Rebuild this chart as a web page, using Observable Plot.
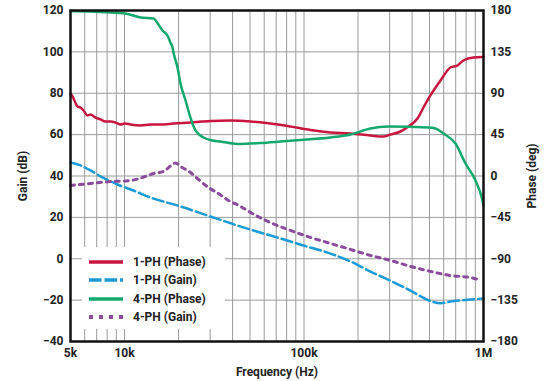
<!DOCTYPE html>
<html><head><meta charset="utf-8">
<script src="https://cdn.jsdelivr.net/npm/d3@7"></script>
<script src="https://cdn.jsdelivr.net/npm/@observablehq/plot@0.6"></script>
<style>
body{margin:0;background:#fff;}
#wrap{position:relative;width:553px;height:381px;font-family:Roboto,"DejaVu Sans",sans-serif;}
#legend{position:absolute;left:82px;top:247px;width:143px;height:82px;background:#fff;}
#legend .row{position:absolute;left:0;height:18px;display:flex;align-items:center;font-weight:bold;font-size:12px;color:#222;}
#legend svg{margin-left:7px;margin-right:10px;}
</style></head><body><div id="wrap"></div>
<script>
// ---- data ----
const f1Phase = [5000,5130,5260,5470,5690,5910,6220,6460,6890,7350,7830,8350,8900,9490,10100,10800,12300,13950,15860,18740,23300,30100,38900,50300,65000,84000,108700,140400,181500,234600,277000,303000,344700,382000,428700,463000,506000,576000,654000,716000,773000,879000,987000,1000000];
const v1Phase = [89.7,86.5,82.1,75.6,74.5,71.2,65.8,66.9,63.6,61.5,59.3,59.3,58.2,56.0,57.1,56.0,55.0,56.0,56.0,57.1,58.2,59.8,60.4,59.3,57.1,53.8,50.0,47.3,46.2,44.0,42.9,45.1,48.4,53.8,62.5,74.5,87.6,103.9,118.0,120.2,125.6,128.9,129.4,129.4];

const f1Gain = [5000,5690,6460,7350,9140,11200,13950,20500,30100,50300,74000,99300,140400,181500,234600,303000,392000,506000,576000,654000,846000,1000000];
const v1Gain = [46.5,45.1,42.7,39.8,35.9,33.0,29.6,25.3,20.4,14.1,9.8,6.4,2.5,-1.3,-6.2,-10.6,-15.4,-20.4,-21.5,-20.7,-19.7,-19.2];

const f4Phase = [5000,6460,8350,10100,12300,14500,15460,16270,17350,18000,18500,18740,19730,20500,21870,23300,24850,27540,30900,34250,42600,57200,74000,95600,140400,181500,234600,295600,493600,540000,598000,698000,794000,902000,987000,1000000];
const v4Phase = [179.5,178.9,177.8,176.7,172.4,171.3,164.8,158.2,152.8,145.2,139.8,134.3,118.0,100.6,82.1,63.6,49.5,41.9,38.6,37.5,34.8,35.9,37.5,39.2,41.9,45.1,51.7,53.8,52.8,51.7,46.2,35.3,13.6,-4.9,-26.6,-32.1];

const f4Gain = [5000,6460,8350,10800,13090,14500,16500,18500,19200,20500,23300,25830,29400,33400,37900,44300,50300,65000,84000,108700,140400,181500,234600,303000,392000,506000,654000,846000,937000];
const v4Gain = [35.4,36.4,37.3,37.8,39.8,41.2,42.2,45.6,46.3,44.6,41.7,38.3,34.4,31.5,28.2,25.3,22.4,17.5,13.7,10.3,7.4,4.5,1.6,-0.8,-3.7,-6.1,-8.1,-9.1,-10.0];

const xTicks = [5000,10000,100000,1000000];
const xTickLabels = ["5k","10k","100k","1M"];
const gainTicks = [-40,-20,0,20,40,60,80,100,120];
const phaseTicks = [-180,-135,-90,-45,0,45,90,135,180];
const xGrid = [6000,7000,8000,9000,10000,20000,30000,40000,50000,60000,70000,80000,90000,100000,200000,300000,400000,500000,600000,700000,800000,900000];

const series = [
  {name:"1-PH (Phase)", color:"#c8163f", dash:null, width:2.5, phase:true, f:f1Phase, v:v1Phase},
  {name:"1-PH (Gain)", color:"#1b9ad6", dash:"11,4", width:2.5, phase:false, f:f1Gain, v:v1Gain},
  {name:"4-PH (Phase)", color:"#14a86c", dash:null, width:2.5, phase:true, f:f4Phase, v:v4Phase},
  {name:"4-PH (Gain)", color:"#8b4b9d", dash:"4,5", width:3, phase:false, f:f4Gain, v:v4Gain}
];
// phase (deg) mapped onto the gain scale: -180..180 -> -40..120
const phaseToGain = p => p / 2.25 + 40;
const gainToPhase = g => Math.round((g - 40) * 2.25);

const lineMarks = series.map(s => {
  const data = s.f.map((f, i) => ({f, y: s.phase ? phaseToGain(s.v[i]) : s.v[i]}));
  return Plot.line(data, {x:"f", y:"y", stroke:s.color, strokeWidth:s.width, strokeDasharray:s.dash, curve:"monotone-x", strokeLinejoin:"round"});
});

const xTickData = xTicks.map((t, i) => ({t, label: xTickLabels[i]}));

const plot = Plot.plot({
  width:553, height:381,
  marginLeft:70, marginRight:70, marginTop:10, marginBottom:40,
  style:{fontFamily:"Roboto, 'DejaVu Sans', sans-serif", fontSize:"12px", fontWeight:"bold", color:"#222", background:"#fff"},
  x:{type:"log", domain:[5000,1000000]},
  y:{domain:[-40,120]},
  marks:[
    Plot.ruleX(xGrid, {stroke:"#9a9a9a", strokeWidth:1, strokeOpacity:1}),
    Plot.ruleY(gainTicks.slice(1,-1), {stroke:"#9a9a9a", strokeWidth:1, strokeOpacity:1}),
    ...lineMarks,
    Plot.text(xTickData, {x:"t", text:"label", frameAnchor:"bottom", lineAnchor:"top", dy:7, fill:"#222", fontWeight:"bold", fontSize:12}),
    Plot.axisX({ticks:[], tickSize:0, label:"Frequency (Hz)", labelAnchor:"center", labelOffset:34, labelArrow:"none"}),
    Plot.axisY({ticks:gainTicks, tickSize:0, tickPadding:7, label:"Gain (dB)", labelAnchor:"center", labelOffset:52, labelArrow:"none"}),
    Plot.axisY({anchor:"right", ticks:phaseTicks.map(phaseToGain), tickFormat:g => { const p = gainToPhase(g); return p < 0 ? "\u2212" + Math.abs(p) : String(p); }, tickSize:0, tickPadding:7, label:"Phase (deg)", labelAnchor:"center", labelOffset:52, labelArrow:"none"}),
    Plot.frame({stroke:"#111", strokeWidth:2.5})
  ]
});
const wrap = document.getElementById("wrap");
wrap.appendChild(plot);

// legend
const leg = document.createElement("div");
leg.id = "legend";
const rowTops = [6, 24, 43, 61];
series.forEach((s, i) => {
  const row = document.createElement("div");
  row.className = "row";
  row.style.top = rowTops[i] + "px";
  row.innerHTML = `<svg width="34" height="8"><line x1="0" x2="34" y1="4" y2="4" stroke="${s.color}" stroke-width="${s.dash==="4,5"?4:3.5}" ${s.dash ? `stroke-dasharray="${s.dash==="4,5"?"4,6":"12.5,3"}"` : ""}/></svg><span>${s.name}</span>`;
  leg.appendChild(row);
});
wrap.appendChild(leg);
</script>
</body></html>
